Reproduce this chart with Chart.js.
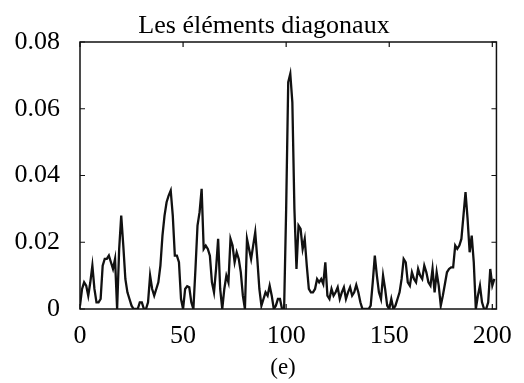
<!DOCTYPE html>
<html>
<head>
<meta charset="utf-8">
<script src="https://cdn.jsdelivr.net/npm/chart.js@4/dist/chart.umd.min.js"></script>
<style>
    html, body { margin: 0; padding: 0; background: #fff; }
    #wrap { width: 524px; height: 383px; }
</style>
</head>
<body>
<div id="wrap"><canvas id="diagChart" width="524" height="383"></canvas></div>
<script>
const titleText = 'Les éléments diagonaux';
const caption = '(e)';
const xTicks = [0, 50, 100, 150, 200];
const yTicks = [0, 0.02, 0.04, 0.06, 0.08];

// values, one per index 0..201
const diagValues = [
    0.001, 0.006, 0.008, 0.007, 0.004, 0.008, 0.013, 0.006, 0.002, 0.002,
    0.003, 0.013, 0.015, 0.015, 0.016, 0.014, 0.012, 0.015, 0.000, 0.018,
    0.028, 0.019, 0.009, 0.005, 0.003, 0.001, 0.000, 0.000, 0.000, 0.002,
    0.002, 0.000, 0.000, 0.002, 0.010, 0.006, 0.004, 0.006, 0.008, 0.013,
    0.022, 0.028, 0.032, 0.034, 0.0355, 0.028, 0.016, 0.016, 0.014, 0.003,
    0.000, 0.006, 0.0068, 0.0065, 0.002, 0.000, 0.012, 0.025, 0.029, 0.036,
    0.018, 0.019, 0.018, 0.016, 0.008, 0.005, 0.012, 0.021, 0.006, 0.000,
    0.006, 0.010, 0.008, 0.021, 0.019, 0.014, 0.017, 0.015, 0.011, 0.004,
    0.000, 0.021, 0.018, 0.015, 0.019, 0.023, 0.015, 0.006, 0.001, 0.003,
    0.005, 0.004, 0.007, 0.004, 0.000, 0.001, 0.003, 0.003, 0.000, 0.000,
    0.030, 0.068, 0.0705, 0.062, 0.030, 0.012, 0.025, 0.024, 0.018, 0.021,
    0.013, 0.006, 0.005, 0.005, 0.006, 0.009, 0.008, 0.009, 0.0075, 0.014,
    0.004, 0.003, 0.006, 0.004, 0.005, 0.0065, 0.003, 0.005, 0.0065, 0.003,
    0.005, 0.0065, 0.004, 0.005, 0.0072, 0.005, 0.002, 0.000, 0.000, 0.000,
    0.000, 0.001, 0.008, 0.016, 0.010, 0.005, 0.003, 0.010, 0.006, 0.001,
    0.000, 0.003, 0.000, 0.001, 0.003, 0.005, 0.009, 0.015, 0.014, 0.008,
    0.007, 0.011, 0.009, 0.008, 0.012, 0.010, 0.009, 0.013, 0.011, 0.008,
    0.007, 0.012, 0.005, 0.011, 0.007, 0.001, 0.004, 0.0075, 0.011, 0.012,
    0.0125, 0.0125, 0.019, 0.018, 0.019, 0.021, 0.028, 0.035, 0.027, 0.017,
    0.022, 0.014, 0.000, 0.004, 0.007, 0.002, 0.000, 0.000, 0.002, 0.012,
    0.007, 0.009
];

const serif = '"Liberation Serif", "DejaVu Serif", serif';

// box around the plot, small inward ticks, title and caption
const framePlugin = {
    id: 'frame',
    afterDraw(chart) {
        const ctx = chart.ctx;
        const a = chart.chartArea;
        const xs = chart.scales.x;
        const ys = chart.scales.y;
        ctx.save();
        ctx.strokeStyle = '#111';
        ctx.lineWidth = 1.5;
        ctx.strokeRect(a.left, a.top, a.right - a.left, a.bottom - a.top);
        ctx.lineWidth = 1.2;
        ctx.beginPath();
        xTicks.forEach(v => {
            const px = xs.getPixelForValue(v);
            ctx.moveTo(px, a.bottom); ctx.lineTo(px, a.bottom - 5);
            ctx.moveTo(px, a.top); ctx.lineTo(px, a.top + 5);
        });
        yTicks.forEach(v => {
            const py = ys.getPixelForValue(v);
            ctx.moveTo(a.left, py); ctx.lineTo(a.left + 5, py);
            ctx.moveTo(a.right, py); ctx.lineTo(a.right - 5, py);
        });
        ctx.stroke();

        ctx.fillStyle = '#000';
        ctx.textAlign = 'center';
        ctx.textBaseline = 'alphabetic';
        ctx.font = '26px ' + serif;
        ctx.fillText(titleText, 264, 33);
        ctx.font = '23px ' + serif;
        ctx.fillText(caption, 283, 374);
        ctx.restore();
    }
};

function buildChart() {
    const points = diagValues.map((v, i) => ({ x: i, y: v }));

    new Chart(document.getElementById('diagChart'), {
        type: 'line',
        data: {
            datasets: [{
                data: points,
                borderColor: '#111',
                borderWidth: 2.3,
                pointRadius: 0,
                tension: 0,
                fill: false
            }]
        },
        options: {
            responsive: false,
            animation: false,
            layout: { padding: { top: 42, right: 18, left: 0, bottom: 0 } },
            plugins: {
                legend: { display: false },
                tooltip: { enabled: false }
            },
            scales: {
                x: {
                    type: 'linear',
                    min: 0,
                    max: 202,
                    afterFit: s => { s.height = 74; },
                    afterBuildTicks: s => { s.ticks = xTicks.map(v => ({ value: v })); },
                    grid: { display: false, drawTicks: false },
                    border: { display: false },
                    ticks: {
                        color: '#000',
                        padding: 12,
                        maxRotation: 0,
                        font: { family: serif, size: 26 }
                    }
                },
                y: {
                    min: 0,
                    max: 0.08,
                    afterFit: s => { s.width = 80; },
                    afterBuildTicks: s => { s.ticks = yTicks.map(v => ({ value: v })); },
                    grid: { display: false, drawTicks: false },
                    border: { display: false },
                    ticks: {
                        color: '#000',
                        padding: 20,
                        font: { family: serif, size: 26 }
                    }
                }
            }
        },
        plugins: [framePlugin]
    });
}

document.addEventListener('DOMContentLoaded', buildChart);
</script>
</body>
</html>
